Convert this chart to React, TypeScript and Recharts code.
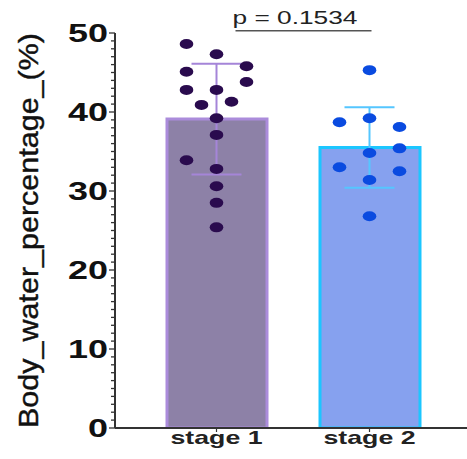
import React from 'react';
import { ComposedChart, Bar, Cell, Scatter, ErrorBar, XAxis, YAxis, ReferenceLine } from 'recharts';

const categories = ['stage 1', 'stage 2'];
const means = [39.1, 35.5];
const sds = [7.0, 5.1];

const stage1Values = [48.6, 47.3, 45.8, 45.1, 43.8, 42.8, 42.8, 40.9, 41.3, 39.2, 37.1, 33.9, 32.8, 30.6, 28.5, 25.4];
const stage1Cols = [-1, 0, 1, -1, 1, -1, 0, -0.5, 0.5, 0, 0, -1, 0, 0, 0, 0];
const stage2Values = [45.3, 38.7, 39.2, 38.1, 35.4, 34.8, 33.0, 32.5, 31.4, 26.8];
const stage2Cols = [0, -1, 0, 1, 1, 0, -1, 1, 0, 0];

const yMajorTicks = [0, 10, 20, 30, 40, 50];
const yAllTicks = Array.from({ length: 51 }, (_, i) => i);
const yLabel = 'Body_water_percentage_(%)';
const pLabel = 'p = 0.1534';
const pLineValue = 50.3;

const barFills = ['#8d81a7', '#86a1ef'];
const barStrokes = ['#ab8cdb', '#1cc6ff'];
const errColors = ['#a585d8', '#55c6ff'];
const dotColors = ['#2a0b4e', '#0a4be0'];

const barData = categories.map((name, i) => ({ name, mean: means[i], sd: sds[i] }));
const meanData1 = [barData[0]];
const meanData2 = [barData[1]];
const points1 = stage1Values.map((v, i) => ({ name: categories[0], value: v, col: stage1Cols[i] }));
const points2 = stage2Values.map((v, i) => ({ name: categories[1], value: v, col: stage2Cols[i] }));

const FONT = '"Liberation Sans", Arial, sans-serif';

const YTick = (props: any) => {
  const { x, y, payload } = props;
  const v = payload.value;
  const major = yMajorTicks.includes(v);
  return (
    <g>
      <line x1={x - (major ? 6 : 4)} x2={x} y1={y} y2={y} stroke="#333" strokeWidth={1.3} />
      {major && (
        <text
          x={x - 7}
          y={y + 9}
          textAnchor="end"
          fontSize={25}
          fontWeight="bold"
          fontFamily={FONT}
          fill="#111"
          textLength={String(v).length * 20}
          lengthAdjust="spacingAndGlyphs"
        >
          {v}
        </text>
      )}
    </g>
  );
};

const XTick = (props: any) => {
  const { x, y, payload } = props;
  return (
    <text
      x={x}
      y={y + 12}
      textAnchor="middle"
      fontSize={19}
      fontWeight="bold"
      fontFamily={FONT}
      fill="#222"
      textLength={92}
      lengthAdjust="spacingAndGlyphs"
    >
      {payload.value}
    </text>
  );
};

const YLabelContent = (props: any) => {
  const vb = props.viewBox || { x: 0, y: 33, width: 115, height: 395 };
  const cx = vb.x + 38;
  const cy = vb.y + vb.height / 2;
  return (
    <text
      x={cx}
      y={cy}
      transform={`rotate(-90, ${cx}, ${cy})`}
      textAnchor="middle"
      fontSize={28}
      fontFamily={FONT}
      fill="#111"
      stroke="#111"
      strokeWidth={0.4}
      textLength={395}
      lengthAdjust="spacingAndGlyphs"
    >
      {yLabel}
    </text>
  );
};

const makeDot = (color: string) => (props: any) => {
  const { cx, cy, payload } = props;
  if (cx == null || cy == null) return <g />;
  return <ellipse cx={cx + payload.col * 30} cy={cy} rx={6.8} ry={5} fill={color} />;
};

const PLine = (props: any) => {
  const { x1, y1, x2 } = props;
  if (x1 == null) return <g />;
  return (
    <g>
      <line x1={x1 + 19} x2={x2 + 2} y1={y1} y2={y1} stroke="#555" strokeWidth={1.5} />
      <text
        x={(x1 + x2) / 2 + 2}
        y={y1 - 7}
        textAnchor="middle"
        fontSize={18}
        fontFamily={FONT}
        fill="#222"
        textLength={125}
        lengthAdjust="spacingAndGlyphs"
      >
        {pLabel}
      </text>
    </g>
  );
};

export default function App() {
  return (
    <div style={{ position: 'absolute', left: 0, top: 0, background: '#fff' }}>
      <ComposedChart width={467} height={459} data={barData} margin={{ top: 33, right: 0, bottom: 0, left: 0 }}>
        <XAxis
          dataKey="name"
          allowDuplicatedCategory={false}
          padding={{ left: 25, right: 21 }}
          height={31}
          tickSize={4}
          tickMargin={0}
          tick={<XTick />}
          axisLine={{ stroke: '#333', strokeWidth: 2 }}
          tickLine={{ stroke: '#333', strokeWidth: 1.2 }}
        />
        <YAxis
          type="number"
          domain={[0, 50]}
          ticks={yAllTicks}
          interval={0}
          width={115}
          tickSize={0}
          tickMargin={0}
          tickLine={false}
          tick={<YTick />}
          axisLine={{ stroke: '#333', strokeWidth: 2 }}
          allowDataOverflow
          label={<YLabelContent />}
        />
        <Bar dataKey="mean" barSize={100} isAnimationActive={false} strokeWidth={3}>
          {barData.map((d, i) => (
            <Cell key={d.name} fill={barFills[i]} stroke={barStrokes[i]} />
          ))}
        </Bar>
        <Scatter data={meanData1} dataKey="mean" isAnimationActive={false} shape={() => <g />}>
          <ErrorBar dataKey="sd" direction="y" width={25} stroke={errColors[0]} strokeWidth={2} />
        </Scatter>
        <Scatter data={meanData2} dataKey="mean" isAnimationActive={false} shape={() => <g />}>
          <ErrorBar dataKey="sd" direction="y" width={25} stroke={errColors[1]} strokeWidth={2} />
        </Scatter>
        <Scatter data={points1} dataKey="value" isAnimationActive={false} shape={makeDot(dotColors[0])} />
        <Scatter data={points2} dataKey="value" isAnimationActive={false} shape={makeDot(dotColors[1])} />
        <ReferenceLine
          segment={[{ x: categories[0], y: pLineValue }, { x: categories[1], y: pLineValue }]}
          ifOverflow="visible"
          shape={<PLine />}
        />
      </ComposedChart>
    </div>
  );
}
